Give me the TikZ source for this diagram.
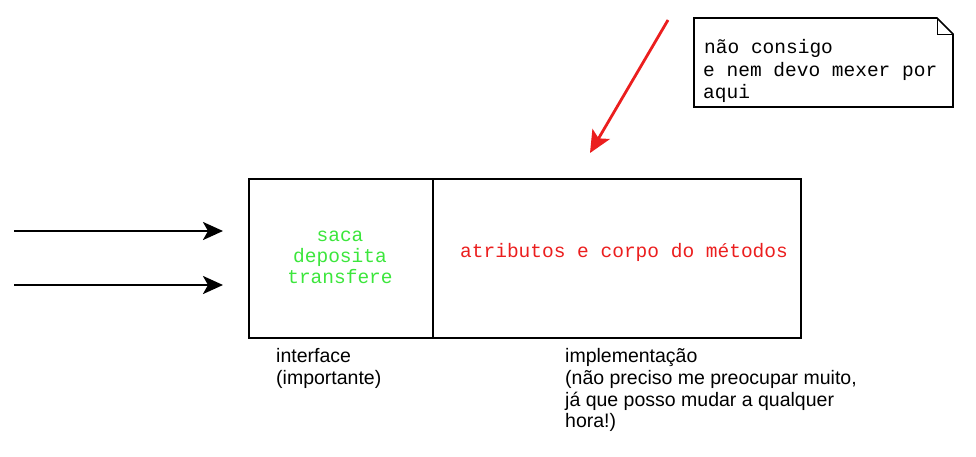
\documentclass[tikz,border=0pt]{standalone}
\usepackage{fontspec}
\setmainfont{Liberation Sans}
\newfontfamily\monofam{Liberation Mono}
\usetikzlibrary{arrows.meta}
\definecolor{mygreen}{RGB}{60,230,60}
\definecolor{myred}{RGB}{235,30,30}
\tikzset{
  boxpart/.style={draw=black, line width=2pt, rectangle, inner sep=0pt, anchor=north west},
  monotext/.style={font=\monofam\fontsize{19.5}{20.5}\selectfont, inner sep=0pt},
  sanstext/.style={font=\fontsize{19.5}{21.5}\selectfont, inner sep=0pt, anchor=base west},
  inarrow/.style={draw=black, line width=2.5pt, -{Stealth[length=20pt,width=18pt,inset=5pt]}},
  redarrow/.style={draw=myred, line width=2.8pt, -{Stealth[length=22pt,width=20pt,inset=5pt]}}
}
\begin{document}
\begin{tikzpicture}[x=1pt,y=-1pt]
\useasboundingbox (0,0) rectangle (976,456);
% boxes
\node[boxpart, minimum width=184pt, minimum height=159pt] (iface) at (248,178) {};
\node[boxpart, minimum width=368pt, minimum height=159pt] (impl) at (432,178) {};
% green text
\node[monotext, text=mygreen, anchor=base] (m1) at (340,241) {saca};
\node[monotext, text=mygreen, anchor=base] (m2) at (340,262) {deposita};
\node[monotext, text=mygreen, anchor=base] (m3) at (340,283) {transfere};
% red text
\node[monotext, text=myred, anchor=base west] (attr) at (460,257) {atributos e corpo do métodos};
% note
\draw[line width=1.6pt, fill=white] (694,18) -- (937,18) -- (953,34) -- (953,107) -- (694,107) -- cycle;
\draw[line width=1pt] (937,18) -- (937,34) -- (953,34);
\node[monotext, anchor=base west] (n1) at (704,53) {não consigo};
\node[monotext, anchor=base west] (n2) at (703,76) {e nem devo mexer por};
\node[monotext, anchor=base west] (n3) at (703,98) {aqui};
% red arrow
\coordinate (rs) at (668,20);
\coordinate (re) at (590,153);
\draw[redarrow] (rs) -- (re);
% input arrows
\coordinate (a1s) at (14,231);
\coordinate (a1e) at (223,231);
\coordinate (a2s) at (14,285);
\coordinate (a2e) at (223,285);
\draw[inarrow] (a1s) -- (a1e);
\draw[inarrow] (a2s) -- (a2e);
% captions
\node[sanstext] (c1) at (276,362) {interface};
\node[sanstext] (c2) at (276,384) {(importante)};
\node[sanstext] (d1) at (565,362) {implementação};
\node[sanstext] (d2) at (565,384) {(não preciso me preocupar muito,};
\node[sanstext] (d3) at (565,406) {já que posso mudar a qualquer};
\node[sanstext] (d4) at (565,427) {hora!)};
\end{tikzpicture}
\end{document}
